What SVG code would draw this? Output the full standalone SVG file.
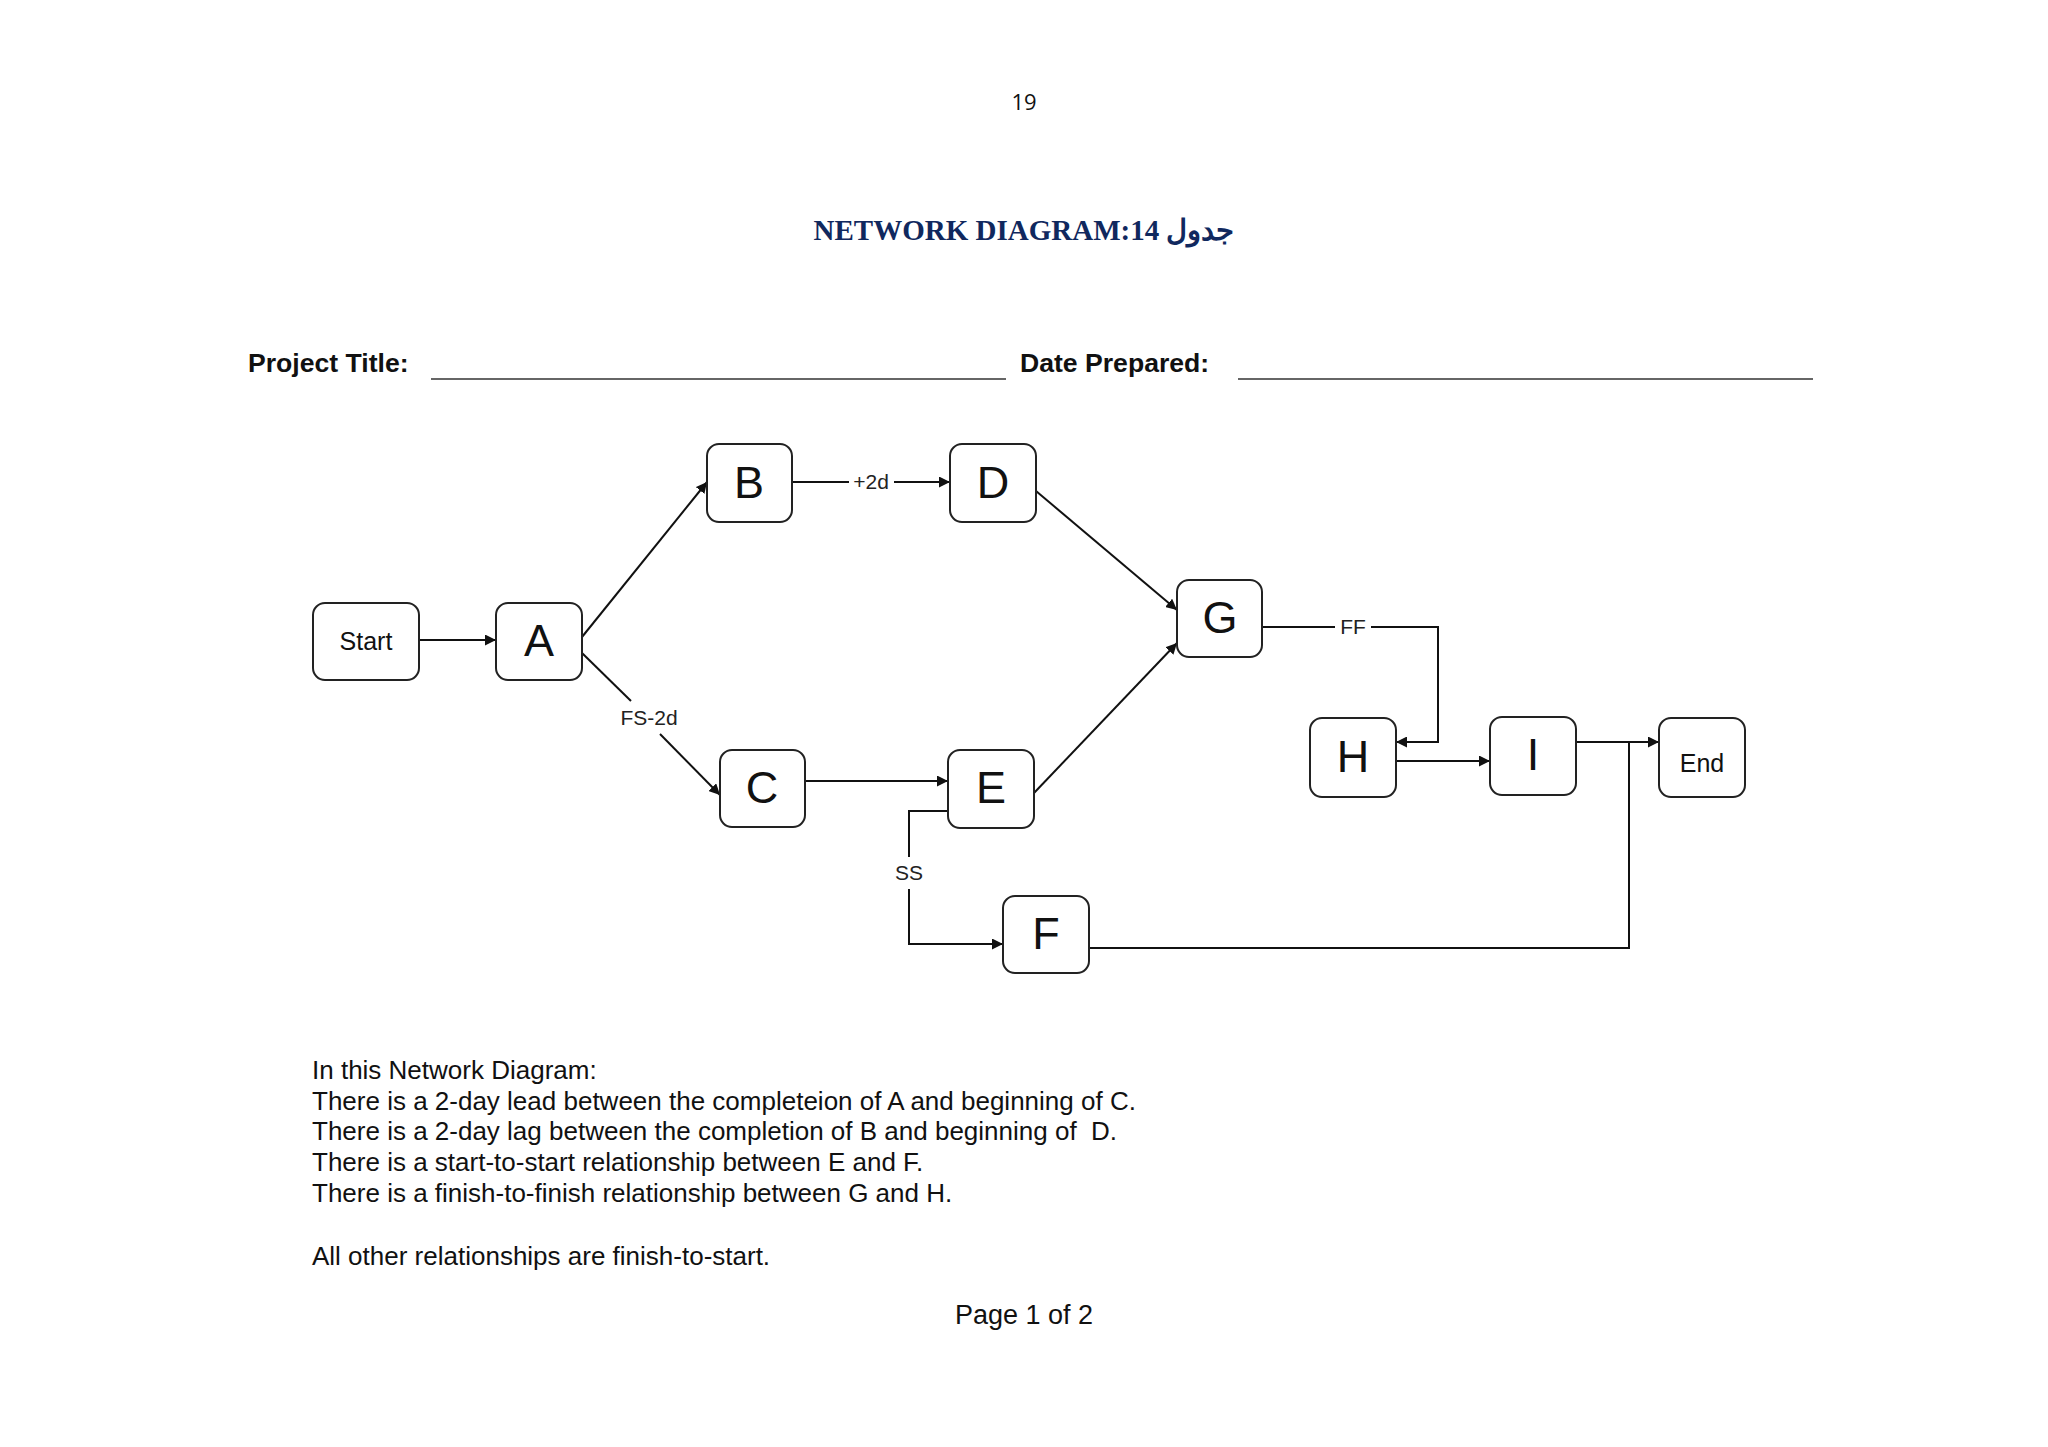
<svg xmlns="http://www.w3.org/2000/svg" width="2048" height="1447" viewBox="0 0 2048 1447">
<style>
.node rect{fill:#fff;stroke:#222;stroke-width:2}
.big{font-family:"Liberation Sans",Arial,sans-serif;font-size:45px;fill:#111;text-anchor:middle}
.small{font-family:"Liberation Sans",Arial,sans-serif;font-size:25px;fill:#111;text-anchor:middle}
.lbl{font-family:"Liberation Sans",Arial,sans-serif;font-size:21px;fill:#222;text-anchor:middle}
.conn line,.conn polyline{stroke:#111;stroke-width:2;fill:none}
.body{font-family:"Liberation Sans",Arial,sans-serif;font-size:26px;fill:#111}
.hdr{font-family:"Liberation Sans",Arial,sans-serif;font-size:26.6px;font-weight:bold;fill:#111}
</style>
<defs>
<marker id="arr" viewBox="0 0 10 10" refX="10" refY="5" markerWidth="11" markerHeight="11" markerUnits="userSpaceOnUse" orient="auto">
<path d="M0,0 L10,5 L0,10 z" fill="#111"/>
</marker>
</defs>
<rect width="2048" height="1447" fill="#fff"/>
<text x="1024" y="110" font-family="'Open Sans','Liberation Sans',sans-serif" font-size="22" fill="#111" text-anchor="middle">19</text>
<text x="1024" y="240" font-family="'Liberation Serif','DejaVu Serif',serif" font-size="29" font-weight="bold" fill="#10285e" text-anchor="middle" direction="ltr">NETWORK DIAGRAM:14 جدول</text>
<text class="hdr" x="248" y="372">Project Title:</text>
<line x1="431" y1="379" x2="1006" y2="379" stroke="#666" stroke-width="2"/>
<text class="hdr" x="1020" y="372">Date Prepared:</text>
<line x1="1238" y1="379" x2="1813" y2="379" stroke="#666" stroke-width="2"/>

<g class="conn" id="connectors">
<line x1="419" y1="640" x2="496" y2="640" marker-end="url(#arr)"/>
<line x1="582" y1="637" x2="707" y2="482" marker-end="url(#arr)"/>
<line x1="582" y1="653" x2="631" y2="701"/>
<line x1="660" y1="734" x2="720" y2="795" marker-end="url(#arr)"/>
<text class="lbl" x="649" y="725">FS-2d</text>
<line x1="792" y1="482" x2="849" y2="482"/>
<line x1="894" y1="482" x2="950" y2="482" marker-end="url(#arr)"/>
<text class="lbl" x="871" y="489">+2d</text>
<line x1="1036" y1="491" x2="1177" y2="610" marker-end="url(#arr)"/>
<line x1="805" y1="781" x2="948" y2="781" marker-end="url(#arr)"/>
<line x1="1034" y1="793" x2="1177" y2="643" marker-end="url(#arr)"/>
<polyline points="948,811 909,811 909,857"/>
<polyline points="909,889 909,944 1003,944" marker-end="url(#arr)"/>
<text class="lbl" x="909" y="880">SS</text>
<line x1="1262" y1="627" x2="1335" y2="627"/>
<polyline points="1371,627 1438,627 1438,742 1396,742" marker-end="url(#arr)"/>
<text class="lbl" x="1353" y="634">FF</text>
<line x1="1396" y1="761" x2="1490" y2="761" marker-end="url(#arr)"/>
<line x1="1576" y1="742" x2="1659" y2="742" marker-end="url(#arr)"/>
<polyline points="1089,948 1629,948 1629,742"/>
</g>

<g class="node" id="node-start"><rect x="313" y="603" width="106" height="77" rx="12"/><text class="small" x="366" y="650">Start</text></g>
<g class="node" id="node-a"><rect x="496" y="603" width="86" height="77" rx="12"/><text class="big" x="539" y="656">A</text></g>
<g class="node" id="node-b"><rect x="707" y="444" width="85" height="78" rx="12"/><text class="big" x="749" y="498">B</text></g>
<g class="node" id="node-d"><rect x="950" y="444" width="86" height="78" rx="12"/><text class="big" x="993" y="498">D</text></g>
<g class="node" id="node-g"><rect x="1177" y="580" width="85" height="77" rx="12"/><text class="big" x="1220" y="633">G</text></g>
<g class="node" id="node-c"><rect x="720" y="750" width="85" height="77" rx="12"/><text class="big" x="762" y="803">C</text></g>
<g class="node" id="node-e"><rect x="948" y="750" width="86" height="78" rx="12"/><text class="big" x="991" y="803">E</text></g>
<g class="node" id="node-f"><rect x="1003" y="896" width="86" height="77" rx="12"/><text class="big" x="1046" y="949">F</text></g>
<g class="node" id="node-h"><rect x="1310" y="718" width="86" height="79" rx="12"/><text class="big" x="1353" y="772">H</text></g>
<g class="node" id="node-i"><rect x="1490" y="717" width="86" height="78" rx="12"/><text class="big" x="1533" y="770">I</text></g>
<g class="node" id="node-end"><rect x="1659" y="718" width="86" height="79" rx="12"/><text class="small" x="1702" y="772">End</text></g>

<text class="body" x="312" y="1079">In this Network Diagram:</text>
<text class="body" x="312" y="1110">There is a 2-day lead between the completeion of A and beginning of C.</text>
<text class="body" x="312" y="1140" xml:space="preserve">There is a 2-day lag between the completion of B and beginning of  D.</text>
<text class="body" x="312" y="1171">There is a start-to-start relationship between E and F.</text>
<text class="body" x="312" y="1202">There is a finish-to-finish relationship between G and H.</text>
<text class="body" x="312" y="1265">All other relationships are finish-to-start.</text>
<text x="1024" y="1324" font-family="'Liberation Sans',Arial,sans-serif" font-size="27" fill="#111" text-anchor="middle">Page 1 of 2</text>
</svg>
